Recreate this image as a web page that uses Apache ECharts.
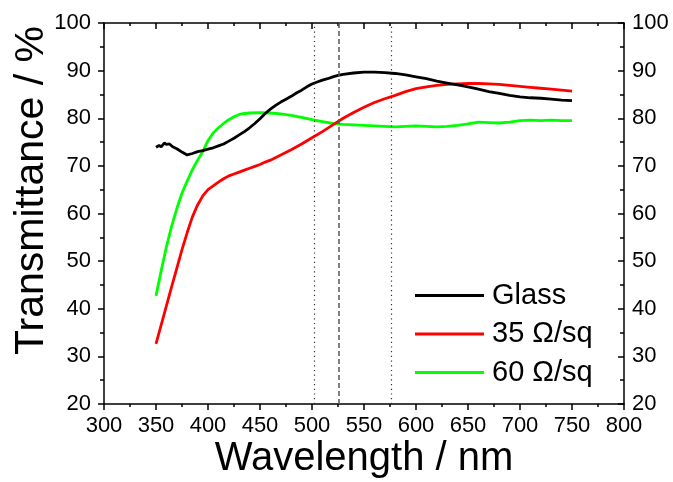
<!DOCTYPE html>
<html>
<head>
<meta charset="utf-8">
<script src="https://cdn.jsdelivr.net/npm/echarts@6/dist/echarts.min.js"></script>
<style>
html,body{margin:0;padding:0;background:#fff;}
#chart{width:673px;height:482px;}
</style>
</head>
<body>
<div id="chart"></div>
<script>
// Wavelength (nm) / transmittance (%) pairs
const glassX = [350,353,355,358,360,363,366,370,375,380,385,390,395,400,405,410,415,420,425,430,435,440,445,450,455,460,465,470,475,480,485,490,495,500,505,510,515,520,525,530,540,550,560,570,580,590,600,610,620,630,640,650,660,670,680,690,700,710,720,730,740,750];
const glassY = [73.9,74.3,74.0,74.8,74.5,74.6,74.0,73.6,72.9,72.3,72.6,73.0,73.2,73.5,73.8,74.2,74.6,75.2,75.8,76.5,77.2,78.0,78.9,79.9,81.0,81.9,82.7,83.4,84.0,84.6,85.3,85.9,86.6,87.2,87.6,88.0,88.3,88.7,89.0,89.2,89.5,89.7,89.7,89.6,89.4,89.1,88.7,88.3,87.8,87.4,87.0,86.6,86.1,85.6,85.2,84.8,84.5,84.3,84.2,84.0,83.8,83.7];

const r35X = [350,355,360,365,370,375,380,385,390,395,400,405,410,415,420,425,430,435,440,445,450,455,460,470,480,490,500,510,520,530,540,550,560,570,580,590,600,610,620,630,640,650,660,670,680,690,700,710,720,730,740,750];
const r35Y = [32.6,36.6,40.6,44.6,48.5,52.4,56.0,59.3,61.8,63.7,65.0,65.8,66.6,67.3,67.9,68.3,68.7,69.1,69.5,69.9,70.3,70.8,71.2,72.3,73.4,74.6,75.9,77.2,78.6,80.0,81.2,82.3,83.3,84.1,84.8,85.6,86.2,86.6,86.9,87.1,87.2,87.3,87.3,87.2,87.1,86.9,86.7,86.5,86.3,86.1,85.9,85.7];

const r60X = [350,355,360,365,370,375,380,385,390,395,400,405,410,415,420,425,430,435,440,450,460,470,480,490,500,510,520,530,540,550,560,570,580,590,600,610,620,630,640,650,660,670,680,690,700,710,720,730,740,750];
const r60Y = [42.7,48.0,53.0,57.3,61.0,64.3,66.8,69.2,71.2,73.0,75.3,76.9,78.0,78.9,79.7,80.3,80.8,81.0,81.1,81.2,81.1,80.9,80.6,80.2,79.7,79.3,78.9,78.7,78.6,78.5,78.4,78.3,78.2,78.3,78.4,78.3,78.2,78.3,78.5,78.8,79.2,79.1,79.0,79.2,79.5,79.6,79.5,79.6,79.5,79.5];

const seriesNames = ['Glass', '35 \u03A9/sq', '60 \u03A9/sq'];
const seriesColors = ['#000000', '#ff0000', '#00ff00'];
const refLinesDotted = [502, 576];
const refLineDashed = [526];

const xMin = 300, xMax = 800, xStep = 50;
const yMin = 20, yMax = 100, yStep = 10;

function pairs(xs, ys) { return xs.map((x, i) => [x, ys[i]]); }

const FONT = "'Liberation Sans', Arial, sans-serif";
const chart = echarts.init(document.getElementById('chart'), null, {renderer: 'canvas'});

const axisLine = {show: true, lineStyle: {color: '#000', width: 1.5}};

const option = {
  animation: false,
  backgroundColor: '#fff',
  grid: {left: 104, right: 49, top: 23, bottom: 78, containLabel: false, outerBoundsMode: 'none'},
  legend: {
    left: 410, top: 276, orient: 'vertical',
    icon: 'rect', itemWidth: 69, itemHeight: 3, itemGap: 9.5,
    textStyle: {fontFamily: FONT, fontSize: 29, color: '#000', lineHeight: 29, padding: [0,0,0,3]},
    data: seriesNames
  },
  xAxis: [
    {
      type: 'value', min: xMin, max: xMax, interval: xStep, position: 'bottom',
      name: 'Wavelength / nm', nameLocation: 'middle', nameGap: 35, nameMoveOverlap: false,
      nameTextStyle: {fontFamily: FONT, fontSize: 40, color: '#000', lineHeight: 40},
      axisLine: axisLine,
      axisTick: {show: true, inside: false, length: 6, lineStyle: {color: '#000', width: 1.5}},
      minorTick: {show: true, splitNumber: 2, length: 3, lineStyle: {color: '#000', width: 1.5}},
      axisLabel: {fontFamily: FONT, fontSize: 22, color: '#000', margin: 11, lineHeight: 22},
      splitLine: {show: false}
    },
    {
      type: 'value', min: xMin, max: xMax, interval: xStep, position: 'top',
      axisLine: axisLine,
      axisTick: {show: true, inside: true, length: 6, lineStyle: {color: '#000', width: 1.5}},
      minorTick: {show: true, splitNumber: 2, length: 3, lineStyle: {color: '#000', width: 1.5}},
      axisLabel: {show: false},
      splitLine: {show: false}
    }
  ],
  yAxis: [
    {
      type: 'value', min: yMin, max: yMax, interval: yStep, position: 'left',
      name: 'Transmittance / %', nameLocation: 'middle', nameGap: 52, nameMoveOverlap: false,
      nameTextStyle: {fontFamily: FONT, fontSize: 41, color: '#000', lineHeight: 41, padding: [0,0,0,46]},
      axisLine: axisLine,
      axisTick: {show: true, inside: false, length: 6, lineStyle: {color: '#000', width: 1.5}},
      minorTick: {show: true, splitNumber: 2, length: 4, lineStyle: {color: '#000', width: 1.5}},
      axisLabel: {fontFamily: FONT, fontSize: 22, color: '#000', margin: 13},
      splitLine: {show: false}
    },
    {
      type: 'value', min: yMin, max: yMax, interval: yStep, position: 'right',
      axisLine: axisLine,
      axisTick: {show: true, inside: true, length: 6, lineStyle: {color: '#000', width: 1.5}},
      minorTick: {show: true, splitNumber: 2, length: 4, lineStyle: {color: '#000', width: 1.5}},
      axisLabel: {fontFamily: FONT, fontSize: 22, color: '#000', margin: 8},
      splitLine: {show: false}
    }
  ],
  series: [
    {
      name: seriesNames[0], type: 'line', data: pairs(glassX, glassY),
      symbol: 'none', smooth: false, color: seriesColors[0],
      lineStyle: {width: 2.8, color: seriesColors[0]}, z: 4,
      markLine: {
        silent: true, symbol: 'none', label: {show: false},
        data: [
          {xAxis: refLinesDotted[0], lineStyle: {type: [1.2, 3.5], color: '#333', width: 1.2}},
          {xAxis: refLineDashed[0], lineStyle: {type: [5, 3], color: '#555', width: 1.5}},
          {xAxis: refLinesDotted[1], lineStyle: {type: [1.2, 3.5], color: '#333', width: 1.2}}
        ]
      }
    },
    {
      name: seriesNames[1], type: 'line', data: pairs(r35X, r35Y),
      symbol: 'none', color: seriesColors[1],
      lineStyle: {width: 2.8, color: seriesColors[1]}, z: 3
    },
    {
      name: seriesNames[2], type: 'line', data: pairs(r60X, r60Y),
      symbol: 'none', color: seriesColors[2],
      lineStyle: {width: 2.8, color: seriesColors[2]}, z: 2
    }
  ]
};
chart.setOption(option);
</script>
</body>
</html>
